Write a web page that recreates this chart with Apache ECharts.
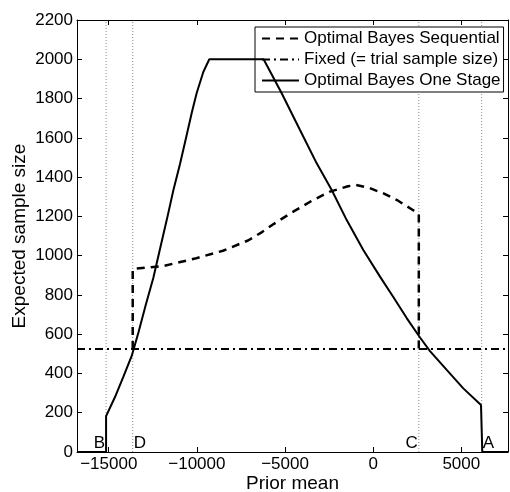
<!DOCTYPE html>
<html>
<head>
<meta charset="utf-8">
<script src="https://cdn.jsdelivr.net/npm/echarts@6/dist/echarts.min.js"></script>
<style>
  html, body { margin: 0; padding: 0; background: #fff; }
  #chart { width: 510px; height: 492px; }
</style>
</head>
<body>
<div id="chart"></div>
<script>
// Prior mean range and sample-size range of the plot
const xRange = [-16800, 7650];
const yRange = [0, 2200];

// Optimal Bayes sequential design: expected sample size vs prior mean
const seqMean = [-13640, -13640, -11921, -10106, -8518, -7100, -6305, -5625, -4717, -3469, -2448, -1427, -1000, -292, 616, 1353, 2204, 2590, 2590];
const seqSize = [525, 932, 947, 985, 1025, 1077, 1120, 1162, 1214, 1280, 1326, 1353, 1360, 1347, 1316, 1283, 1235, 1213, 525];

// Fixed design (= trial sample size)
const fixedMean = [-16800, 7650];
const fixedSize = [525, 525];

// Optimal Bayes one-stage design
const oneMean = [-16800, -15150, -15150, -14644, -14173, -13697, -13323, -12886, -12472, -12092, -11711, -11337, -10957, -10577, -10293, -10010, -9635, -9295,
  -6214, -5188, -4150, -3202, -2351, -1500, -559, 389, 1143, 1903, 2658, 3225, 4173, 5114, 6118, 6192, 7650];
const oneSize = [0, 0, 183, 280, 382, 489, 606, 754, 886, 1034, 1181, 1332, 1467, 1614, 1726, 1828, 1935, 2000,
  2000, 1827, 1640, 1470, 1334, 1181, 1029, 893, 789, 682, 583, 514, 418, 324, 239, 0, 0];

// Region boundaries marked with dotted lines
const boundaryNames = ['B', 'D', 'C', 'A'];
const boundaryMeans = [-15150, -13640, 2590, 6158];

const seriesNames = ['Optimal Bayes Sequential', 'Fixed (= trial sample size)', 'Optimal Bayes One Stage'];

const zip = (xs, ys) => xs.map((x, i) => [x, ys[i]]);
const FONT = 'Liberation Sans, Arial, Helvetica, sans-serif';
const minus = v => String(v).replace('-', '\u2212');

const boundarySeries = boundaryMeans.map((m, i) => ({
  type: 'line',
  name: 'boundary-' + boundaryNames[i],
  data: [[m, yRange[0]], [m, yRange[1]]],
  symbol: 'none',
  silent: true,
  z: 1,
  lineStyle: { color: '#8a8a8a', width: 1, type: [1, 2] }
}));

// Letters sit just left (B, C) or right (D, A) of their boundary
const labelSide = { B: 'left', D: 'right', C: 'left', A: 'right' };
const boundaryLabels = {
  type: 'scatter',
  name: 'boundary-labels',
  silent: true,
  symbolSize: 0,
  itemStyle: { color: '#000', opacity: 1 },
  data: boundaryMeans.map((m, i) => ({
    value: [m, 46],
    label: {
      show: true,
      position: labelSide[boundaryNames[i]],
      distance: 1,
      formatter: boundaryNames[i],
      color: '#000',
      opacity: 1,
      fontSize: 17,
      fontFamily: FONT
    }
  })),
  z: 3
};

const chart = echarts.init(document.getElementById('chart'), null, { renderer: 'canvas' });

const axisFrame = { show: true, onZero: false, lineStyle: { color: '#000', width: 1 } };
const inTick = { show: true, inside: true, length: 5, lineStyle: { color: '#000', width: 1 } };

chart.setOption({
  animation: false,
  backgroundColor: '#fff',
  color: ['#000'],
  grid: { left: 77, right: 2, top: 20, bottom: 40, containLabel: false, outerBoundsMode: 'none' },
  legend: {
    data: seriesNames,
    orient: 'vertical',
    left: 255,
    top: 27,
    padding: [3, 3, 3, 6],
    itemWidth: 37,
    itemHeight: 17,
    itemGap: 4,
    borderColor: '#000',
    borderWidth: 1,
    backgroundColor: '#fff',
    selectedMode: false,
    itemStyle: { opacity: 0 },
    textStyle: { color: '#000', fontSize: 17, fontFamily: FONT }
  },
  xAxis: [
    {
      type: 'value',
      min: xRange[0],
      max: xRange[1],
      splitNumber: 5,
      name: 'Prior mean',
      nameLocation: 'middle',
      nameGap: 22,
      nameMoveOverlap: false,
      nameTextStyle: { color: '#000', fontSize: 19, fontFamily: FONT },
      axisLine: axisFrame,
      axisTick: inTick,
      axisLabel: {
        color: '#000', fontSize: 17, fontFamily: FONT, margin: 4,
        showMinLabel: false, showMaxLabel: false,
        formatter: minus
      },
      splitLine: { show: false }
    },
    {
      type: 'value',
      position: 'top',
      min: xRange[0],
      max: xRange[1],
      splitNumber: 5,
      axisLine: axisFrame,
      axisTick: inTick,
      axisLabel: { show: false },
      splitLine: { show: false }
    }
  ],
  yAxis: [
    {
      type: 'value',
      min: yRange[0],
      max: yRange[1],
      interval: 200,
      name: 'Expected sample size',
      nameLocation: 'middle',
      nameGap: 48,
      nameMoveOverlap: false,
      nameTextStyle: { color: '#000', fontSize: 19, fontFamily: FONT },
      axisLine: axisFrame,
      axisTick: inTick,
      axisLabel: { color: '#000', fontSize: 17, fontFamily: FONT, margin: 4, formatter: v => String(v) },
      splitLine: { show: false }
    },
    {
      type: 'value',
      position: 'right',
      min: yRange[0],
      max: yRange[1],
      interval: 200,
      axisLine: axisFrame,
      axisTick: inTick,
      axisLabel: { show: false },
      splitLine: { show: false }
    }
  ],
  series: [
    ...boundarySeries,
    {
      type: 'line',
      name: seriesNames[0],
      data: zip(seqMean, seqSize),
      symbol: 'none',
      z: 4,
      itemStyle: { color: '#000' },
      lineStyle: { color: '#000', width: 2.5, type: [8, 6] }
    },
    {
      type: 'line',
      name: seriesNames[1],
      data: zip(fixedMean, fixedSize),
      symbol: 'none',
      z: 4,
      itemStyle: { color: '#000' },
      lineStyle: { color: '#000', width: 2, type: [8, 4, 2, 4] }
    },
    {
      type: 'line',
      name: seriesNames[2],
      data: zip(oneMean, oneSize),
      symbol: 'none',
      z: 5,
      itemStyle: { color: '#000' },
      lineStyle: { color: '#000', width: 2 }
    },
    boundaryLabels
  ]
});
</script>
</body>
</html>
